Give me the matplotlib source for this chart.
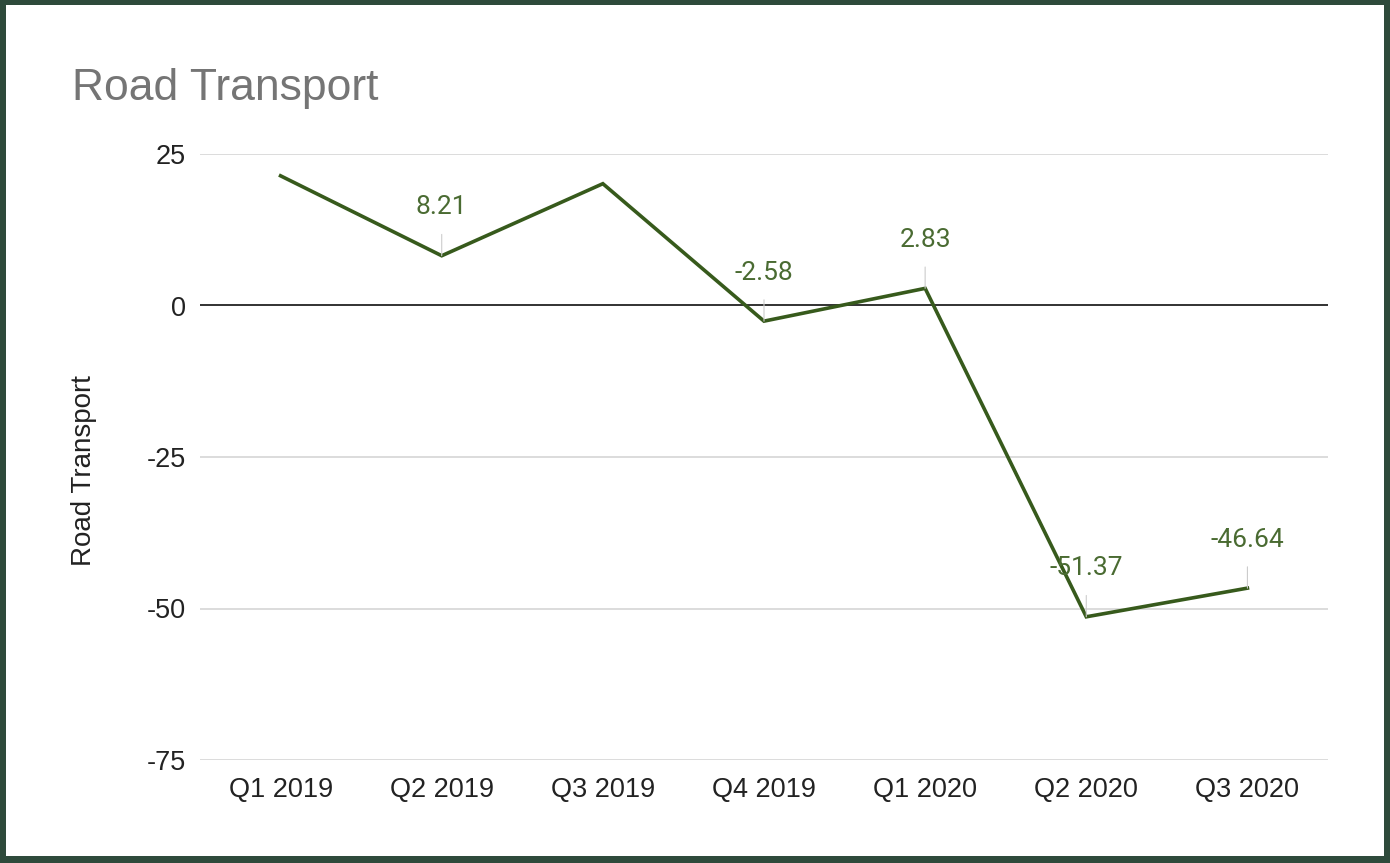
import matplotlib.pyplot as plt
from matplotlib.patches import Rectangle

# data
quarters = ['Q1 2019', 'Q2 2019', 'Q3 2019', 'Q4 2019', 'Q1 2020', 'Q2 2020', 'Q3 2020']
road_transport = [21.4, 8.21, 20.1, -2.58, 2.83, -51.37, -46.64]
# only these points carry a data label in the original
labelled = [False, True, False, True, True, True, True]
y_ticks = [25, 0, -25, -50, -75]

line_color = '#375a1c'
label_color = '#4a6b32'
W, H = 1390, 863

plt.rcParams['axes.unicode_minus'] = False

fig = plt.figure(figsize=(W / 100, H / 100), dpi=100)
fig.patch.set_facecolor('#2e4a3b')
fig.add_artist(Rectangle((6 / W, 7 / H), (W - 12) / W, (H - 12) / H,
                         transform=fig.transFigure, facecolor='white', edgecolor='none', zorder=0))

ax = fig.add_axes([200 / W, 1 - 760 / H, 1128 / W, 606 / H])
ax.set_facecolor('white')

x = list(range(len(quarters)))
ax.plot(x, road_transport, color=line_color, linewidth=2.6, zorder=3, solid_joinstyle='miter')

for xi, v, show in zip(x, road_transport, labelled):
    if not show:
        continue
    ax.annotate(f'{v:.2f}', xy=(xi, v), xytext=(0, 35), textcoords='offset points',
                ha='center', va='center', fontsize=19, color=label_color, family='Roboto',
                arrowprops=dict(arrowstyle='-', color='#cccccc', lw=0.8, shrinkA=9, shrinkB=0),
                zorder=4)

ax.set_xlim(-0.5, len(quarters) - 0.5)
ax.set_ylim(-75, 25)
ax.set_xticks(x)
ax.set_xticklabels(quarters)
ax.set_yticks(y_ticks)
for t in y_ticks:
    if t == 0:
        ax.axhline(t, color='#222222', linewidth=1.3, zorder=2)
    else:
        ax.axhline(t, color='#d2d2d2', linewidth=1.1, zorder=1)

for s in ax.spines.values():
    s.set_visible(False)
ax.tick_params(axis='both', length=0, labelsize=19.5, labelcolor='#222222')
ax.tick_params(axis='y', pad=10)
ax.tick_params(axis='x', pad=12)
for lbl in ax.get_xticklabels() + ax.get_yticklabels():
    lbl.set_family('Liberation Sans')

fig.text(72 / W, 1 - 100 / H, 'Road Transport', fontsize=32, color='#757575',
         family='Liberation Sans', ha='left', va='baseline')
fig.text(84 / W, 1 - 471 / H, 'Road Transport', fontsize=20, color='#222222',
         family='Liberation Sans', rotation=90, ha='center', va='center')

fig.savefig('out.png', dpi=100, facecolor=fig.get_facecolor())
